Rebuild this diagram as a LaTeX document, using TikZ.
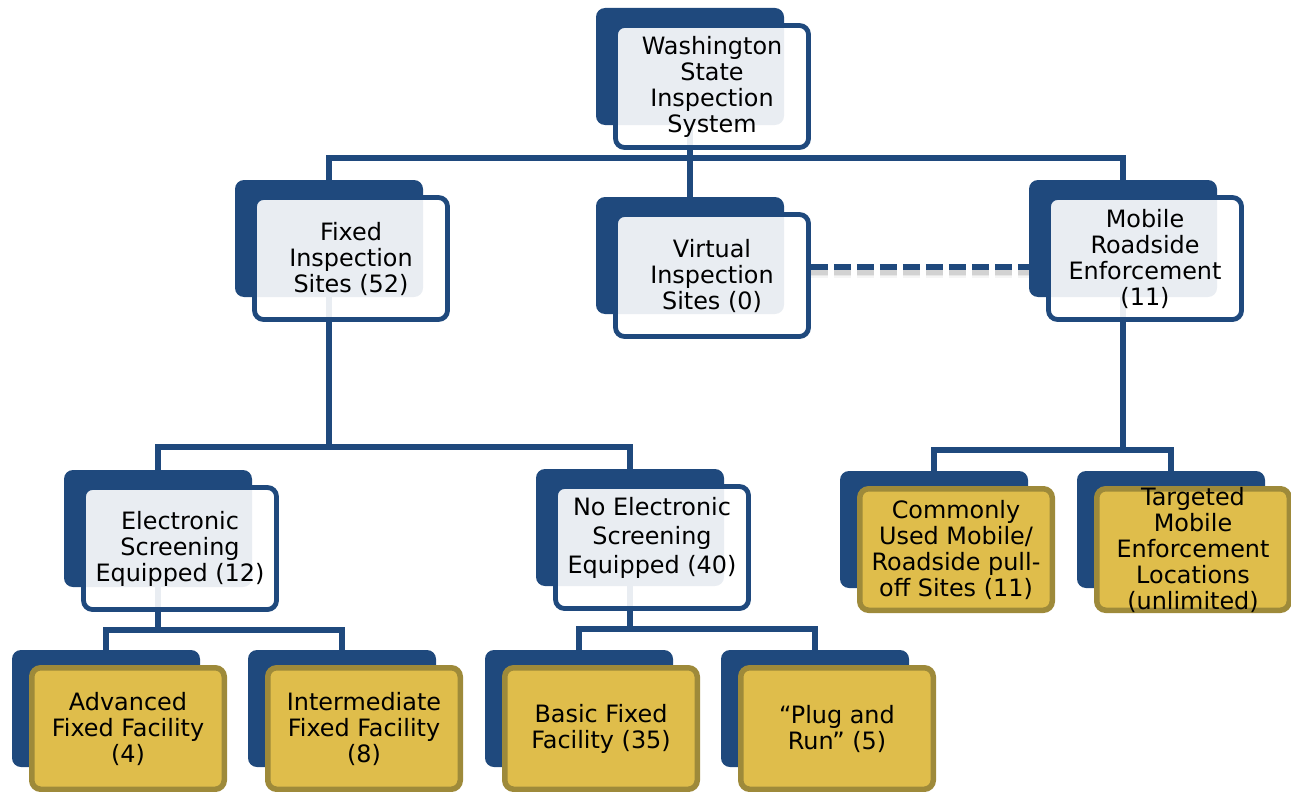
\documentclass[tikz,border=0pt]{standalone}
\usepackage{fontspec}
\setmainfont{DejaVu Sans}
\pgfdeclarelayer{wires}
\pgfsetlayers{wires,main}
\definecolor{navy}{HTML}{1F497D}
\definecolor{goldfill}{HTML}{DFBD4B}
\definecolor{goldedge}{HTML}{9E8A3A}
\tikzset{
  backbox/.style={rectangle, rounded corners=9pt, fill=navy, draw=none,
    minimum width=188pt, minimum height=117pt, inner sep=0pt},
  bluefront/.style={rectangle, rounded corners=9pt, draw=navy, line width=4.8pt,
    fill=white, fill opacity=0.9, minimum width=193pt, minimum height=122pt, inner sep=0pt},
  goldfront/.style={rectangle, rounded corners=9pt, draw=goldedge, line width=5.5pt,
    fill=goldfill, minimum width=192.5pt, minimum height=121.5pt, inner sep=0pt},
  label text/.style={align=center, inner sep=0pt, text=black,
    font=\fontsize{23.9pt}{26pt}\selectfont},
  conn/.style={draw=navy, line width=5.5pt, line join=miter},
  dashconn/.style={draw=navy, line width=5.5pt, dash pattern=on 17pt off 6pt},
}
% one chart unit: dark back plate, front card, centred label
\newcommand\orgunit[6]{%
  \node[backbox] (#1-b) at ({#2+94},{#3+58.5}) {};
  \node[#4] (#1) at ({#2+116},{#3+78.5}) {};
  \node[label text,#5] (#1-t) at (#1.center) {#6};
}
\begin{document}
\begin{tikzpicture}[x=1pt,y=-1pt]
\useasboundingbox (0,0) rectangle (1291,792);

\orgunit{top}{596}{8}{bluefront}{}{Washington\\State\\Inspection\\System}
\orgunit{fixed}{235}{180}{bluefront}{}{Fixed\\Inspection\\Sites (52)}
\orgunit{virtual}{596}{197}{bluefront}{}{Virtual\\Inspection\\Sites (0)}
\orgunit{mobile}{1029}{180}{bluefront}{}{Mobile\\Roadside\\Enforcement\\(11)}
\orgunit{elec}{64}{470}{bluefront}{}{Electronic\\Screening\\Equipped (12)}
\orgunit{noel}{536}{469}{bluefront}{yshift=10pt, font=\fontsize{23.9pt}{29pt}\selectfont}{No Electronic\\Screening\\Equipped (40)}
\orgunit{common}{840}{471}{goldfront}{}{Commonly\\Used Mobile/\\Roadside pull-\\off Sites (11)}
\orgunit{target}{1077}{471}{goldfront}{}{Targeted\\Mobile\\Enforcement\\Locations\\(unlimited)}
\orgunit{adv}{12}{650}{goldfront}{}{Advanced\\Fixed Facility\\(4)}
\orgunit{inter}{248}{650}{goldfront}{}{Intermediate\\Fixed Facility\\(8)}
\orgunit{basic}{485}{650}{goldfront}{}{Basic Fixed\\Facility (35)}
\orgunit{plug}{721}{650}{goldfront}{}{“Plug and\\Run” (5)}

% bus levels
\coordinate (bus1) at (0,158);
\coordinate (bus2) at (0,447);
\coordinate (bus3) at (0,450);
\coordinate (bus4) at (0,630);
\coordinate (bus5) at (0,629);

\begin{pgfonlayer}{wires}
  % top level
  \draw[conn] (top-b.south) -- (top-b.south |- bus1);
  \draw[conn] (fixed-b.north) -- (fixed-b.north |- bus1) -- (mobile-b.north |- bus1) -- (mobile-b.north);
  \draw[conn] (virtual-b.north |- bus1) -- (virtual-b.north);
  % fixed sites
  \draw[conn] (fixed-b.south) -- (fixed-b.south |- bus2);
  \draw[conn] (elec-b.north) -- (elec-b.north |- bus2) -- (noel-b.north |- bus2) -- (noel-b.north);
  % mobile enforcement
  \draw[conn] (mobile-b.south) -- (mobile-b.south |- bus3);
  \draw[conn] (common-b.north) -- (common-b.north |- bus3) -- (target-b.north |- bus3) -- (target-b.north);
  % electronic screening
  \draw[conn] (elec-b.south) -- (elec-b.south |- bus4);
  \draw[conn] (adv-b.north) -- (adv-b.north |- bus4) -- (inter-b.north |- bus4) -- (inter-b.north);
  % no electronic screening
  \draw[conn] (noel-b.south) -- (noel-b.south |- bus5);
  \draw[conn] (basic-b.north) -- (basic-b.north |- bus5) -- (plug-b.north |- bus5) -- (plug-b.north);
  % virtual to mobile link, with soft shadow
  \foreach \w/\o in {13/0.04, 10/0.06, 7/0.09}{
    \draw[line width=\w pt, draw=black, opacity=\o, dash pattern=on 17pt off 6pt]
      ([yshift=4.5pt]virtual.east) -- ([yshift=4.5pt, xshift=12pt]virtual.east -| mobile-b.west);
  }
  \draw[dashconn] ([yshift=8.5pt]virtual.east) -- ([yshift=8.5pt, xshift=12pt]virtual.east -| mobile-b.west);
\end{pgfonlayer}
\end{tikzpicture}
\end{document}
